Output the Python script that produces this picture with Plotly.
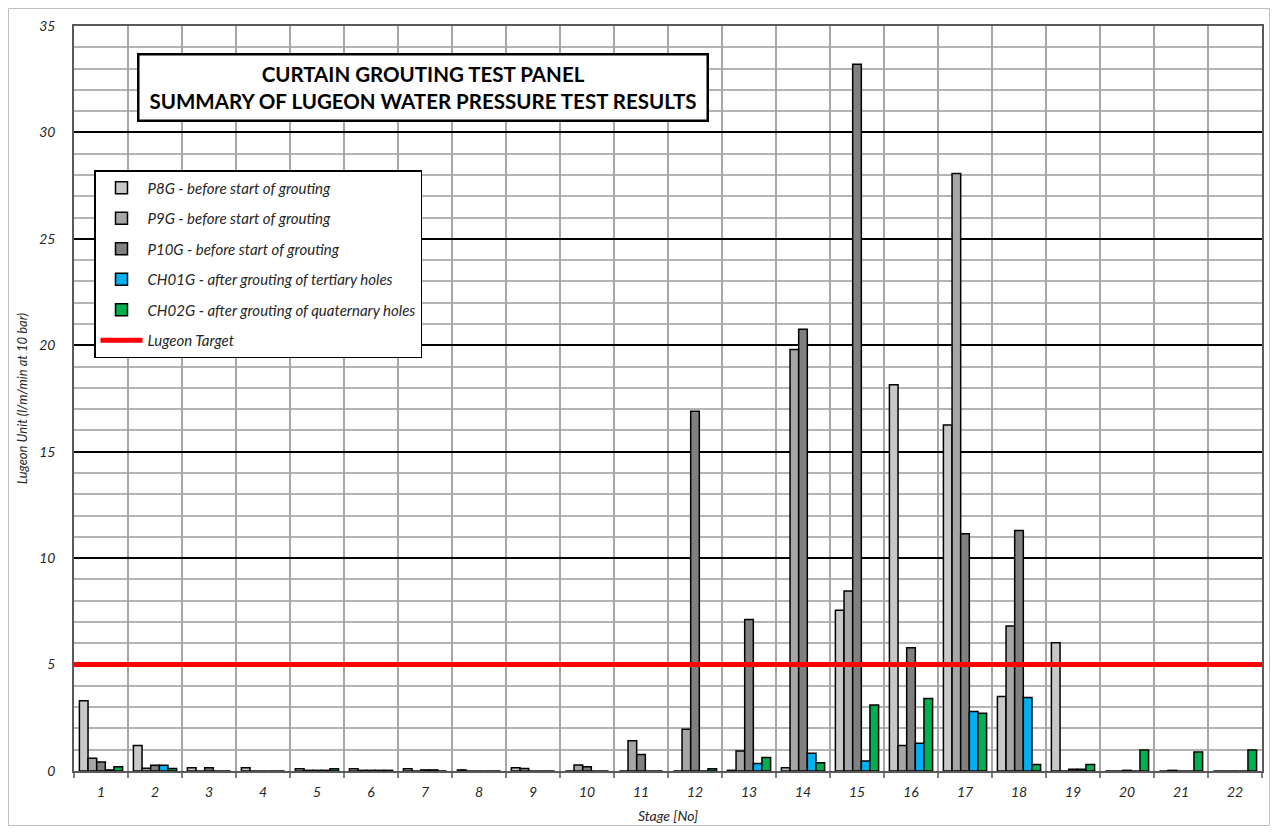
import plotly.graph_objects as go

stages = [str(i) for i in range(1, 23)]
p8g = [3.3, 1.2, 0.15, 0.15, 0.1, 0.1, 0.1, 0.05, 0.15, 0, 0, 0, 0.03, 0.15, 7.55, 18.15, 16.25, 3.5, 6.03, 0, 0, 0]
p9g = [0.6, 0.13, 0, 0, 0.03, 0.03, 0, 0, 0.12, 0.28, 1.42, 1.96, 0.94, 19.8, 8.46, 1.2, 28.07, 6.81, 0, 0, 0.03, 0]
p10g = [0.42, 0.27, 0.15, 0, 0.03, 0.03, 0.05, 0, 0, 0.2, 0.78, 16.9, 7.12, 20.75, 33.2, 5.79, 11.15, 11.3, 0.08, 0.03, 0, 0]
ch01g = [0.05, 0.27, 0, 0, 0.03, 0.03, 0.05, 0, 0, 0, 0, 0, 0.35, 0.83, 0.47, 1.3, 2.79, 3.45, 0.08, 0, 0, 0]
ch02g = [0.2, 0.12, 0, 0, 0.1, 0.03, 0, 0, 0, 0, 0, 0.1, 0.63, 0.39, 3.1, 3.41, 2.71, 0.31, 0.31, 0.99, 0.89, 0.99]
lugeon_target = 5

series = [
    ("P8G - before start of grouting", p8g, "#c8c8c8"),
    ("P9G - before start of grouting", p9g, "#a6a6a6"),
    ("P10G - before start of grouting", p10g, "#808080"),
    ("CH01G - after grouting of tertiary holes", ch01g, "#00b0f0"),
    ("CH02G - after grouting of quaternary holes", ch02g, "#00b050"),
]

FONT = "Lato"
fig = go.Figure()
for name, vals, col in series:
    fig.add_trace(go.Bar(
        x=stages, y=vals, name=name, legendgroup=name,
        marker=dict(color=col, line=dict(color="#000000", width=1.5)),
    ))

fig.add_trace(go.Scatter(
    x=[0, 1], y=[lugeon_target, lugeon_target], xaxis="x2", yaxis="y",
    mode="lines", name="Lugeon Target", legendgroup="target",
    line=dict(color="#ff0000", width=5),
))

# page body adds an 8px offset; figure sized to compensate
OFF = 8
W, H = 1262, 818
L, R, T, B = 66, 8, 18, 55
pw, ph = W - L - R, H - T - B

def px(x):
    return (x - OFF - L) / pw

def py(y):
    return (H - B - (y - OFF)) / ph

fig.update_layout(
    width=W, height=H,
    margin=dict(l=L, r=R, t=T, b=B, autoexpand=False),
    paper_bgcolor="white", plot_bgcolor="white",
    barmode="group", bargap=0.2, bargroupgap=0,
    font=dict(family=FONT, color="#262626"),
    xaxis=dict(
        type="category", tickson="boundaries", showgrid=True, automargin=False,
        gridcolor="#a6a6a6", gridwidth=1.5,
        showline=True, linecolor="#595959", linewidth=1.5, mirror=True,
        ticks="outside", ticklen=5, tickcolor="#808080", tickwidth=1.5,
        ticklabelstandoff=7,
        tickfont=dict(size=14, style="italic", family=FONT),
        title=dict(text="Stage [No]", font=dict(size=14, style="italic", family=FONT), standoff=13),
    ),
    xaxis2=dict(overlaying="x", range=[0, 1], visible=False, showgrid=False),
    yaxis=dict(
        range=[0, 35], dtick=5, showgrid=True, gridcolor="#000000", gridwidth=1.5,
        automargin=False,
        minor=dict(dtick=1, showgrid=True, gridcolor="#b3b3b3", gridwidth=1.5),
        showline=True, linecolor="#595959", linewidth=1.5, mirror=True,
        ticks="", tickfont=dict(size=14, style="italic", family=FONT),
        ticklabelstandoff=14,
        title=dict(text="Lugeon Unit (l/m/min at 10 bar)", font=dict(size=13, style="italic", family=FONT), standoff=9),
        zeroline=False,
    ),
    legend=dict(
        x=px(94), y=py(170), xanchor="left", yanchor="top",
        bgcolor="white", bordercolor="#000000", borderwidth=1.5,
        font=dict(size=15, style="italic", family=FONT, color="#262626"),
        traceorder="grouped", tracegroupgap=8, itemwidth=42,
    ),
    annotations=[dict(
        x=px(422.5), y=py(87.5), xref="paper", yref="paper",
        xanchor="center", yanchor="middle",
        text="<b>CURTAIN GROUTING TEST PANEL<br>SUMMARY OF LUGEON WATER PRESSURE TEST RESULTS</b>",
        showarrow=False, font=dict(size=20.5, family=FONT, color="#000000"),
        bgcolor="white", bordercolor="#000000", borderwidth=2.5,
        width=565, height=62, align="center",
    )],
    shapes=[dict(
        type="rect", xref="paper", yref="paper", layer="below",
        x0=px(8.5), x1=px(1269.5), y0=py(825.5), y1=py(8.5),
        line=dict(color="#bfbfbf", width=1), fillcolor="rgba(0,0,0,0)",
    )],
)

fig.write_html("out.html")
